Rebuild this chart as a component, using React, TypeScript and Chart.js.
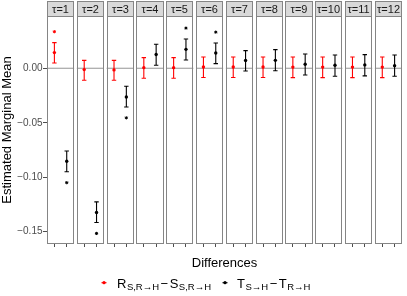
import React, { useEffect, useRef } from 'react';
import { Chart, registerables } from 'chart.js';

Chart.register(...registerables);

const panels = ['τ=1', 'τ=2', 'τ=3', 'τ=4', 'τ=5', 'τ=6', 'τ=7', 'τ=8', 'τ=9', 'τ=10', 'τ=11', 'τ=12'];

const redMean = [0.0144, -0.0012, -0.0015, 0.0006, 0.0006, 0.0012, 0.0012, 0.0012, 0.0011, 0.0011, 0.0011, 0.0011];
const redLow = [0.0049, -0.011, -0.011, -0.0092, -0.0092, -0.0085, -0.0085, -0.0085, -0.0086, -0.0086, -0.0086, -0.0086];
const redHigh = [0.0236, 0.0073, 0.0073, 0.0098, 0.0098, 0.0104, 0.0104, 0.0104, 0.0103, 0.0103, 0.0103, 0.0103];
const redSig = [true, false, false, false, false, false, false, false, false, false, false, false];

const blackMean = [-0.0853, -0.1324, -0.0263, 0.0126, 0.0174, 0.014, 0.0071, 0.0073, 0.0037, 0.0028, 0.0031, 0.0024];
const blackLow = [-0.095, -0.1416, -0.0355, 0.0028, 0.0076, 0.0043, -0.0025, -0.0022, -0.0061, -0.0073, -0.007, -0.0073];
const blackHigh = [-0.0759, -0.1226, -0.0165, 0.022, 0.0269, 0.0232, 0.0162, 0.0171, 0.0131, 0.0122, 0.0125, 0.0122];
const blackSig = [true, true, true, false, true, true, false, false, false, false, false, false];

const yTicks = [-0.15, -0.1, -0.05, 0];

const RED = '#ff0000';
const BLACK = '#000000';
const FONT = '"Liberation Sans", Arial, sans-serif';

// layout helpers (not data)
const GAP = 0.09; // gap between facet panels, in panel-spacing units
const PW = 1 - GAP; // panel width
const POS = [PW * (0.6 / 2.2), PW * (1.6 / 2.2)];
const STAR_OFF = 0.01;

const series = [
  { color: RED, mean: redMean, low: redLow, high: redHigh, sig: redSig, pos: POS[0] },
  { color: BLACK, mean: blackMean, low: blackLow, high: blackHigh, sig: blackSig, pos: POS[1] },
];

const facetPlugin = {
  id: 'facets',
  beforeDatasetsDraw(chart: any) {
    const { ctx, scales } = chart;
    const x = scales.x;
    const y = scales.y;
    ctx.save();
    const y0 = y.getPixelForValue(0);
    panels.forEach((_, i) => {
      const l = x.getPixelForValue(i);
      const r = x.getPixelForValue(i + PW);
      ctx.strokeStyle = '#a6a6a6';
      ctx.lineWidth = 1.2;
      ctx.beginPath();
      ctx.moveTo(l, y0);
      ctx.lineTo(r, y0);
      ctx.stroke();
    });
    series.forEach((s) => {
      ctx.strokeStyle = s.color;
      ctx.lineWidth = 1.1;
      panels.forEach((_, i) => {
        const px = x.getPixelForValue(i + s.pos);
        const yl = y.getPixelForValue(s.low[i]);
        const yh = y.getPixelForValue(s.high[i]);
        const cw = 2.2;
        ctx.beginPath();
        ctx.moveTo(px, yl);
        ctx.lineTo(px, yh);
        ctx.moveTo(px - cw, yl);
        ctx.lineTo(px + cw, yl);
        ctx.moveTo(px - cw, yh);
        ctx.lineTo(px + cw, yh);
        ctx.stroke();
      });
    });
    ctx.restore();
  },
  afterDatasetsDraw(chart: any) {
    const { ctx, chartArea, scales } = chart;
    const x = scales.x;
    ctx.save();
    panels.forEach((label, i) => {
      const l = Math.round(x.getPixelForValue(i)) + 0.5;
      const r = Math.round(x.getPixelForValue(i + PW)) - 0.5;
      const t = Math.round(chartArea.top) + 0.5;
      const b = Math.round(chartArea.bottom) - 0.5;
      ctx.strokeStyle = '#858585';
      ctx.lineWidth = 1;
      ctx.strokeRect(l, t, r - l, b - t);
      const st = 1.5;
      ctx.fillStyle = '#d9d9d9';
      ctx.fillRect(l, st, r - l, t - st);
      ctx.strokeRect(l, st, r - l, t - st);
      ctx.fillStyle = '#1a1a1a';
      ctx.font = `11px ${FONT}`;
      ctx.textAlign = 'center';
      ctx.textBaseline = 'middle';
      ctx.fillText(label, (l + r) / 2, (st + t) / 2 + 0.5);
    });
    ctx.restore();
  },
  afterDraw(chart: any) {
    const { ctx } = chart;
    ctx.save();
    const yc = 282.7;
    const drawItem = (mx: number, color: string, parts: [string, string][], tx: number) => {
      ctx.strokeStyle = color;
      ctx.lineWidth = 1.1;
      ctx.beginPath();
      ctx.moveTo(mx - 2.5, yc);
      ctx.lineTo(mx + 2.5, yc);
      ctx.stroke();
      ctx.fillStyle = color;
      ctx.beginPath();
      ctx.arc(mx, yc, 1.6, 0, Math.PI * 2);
      ctx.fill();
      ctx.fillStyle = '#000';
      ctx.textAlign = 'left';
      ctx.textBaseline = 'alphabetic';
      let cx = tx;
      parts.forEach(([main, sub], k) => {
        ctx.font = `13px ${FONT}`;
        ctx.fillText(main, cx, yc + 4.8);
        cx += ctx.measureText(main).width + 0.5;
        ctx.font = `9.5px ${FONT}`;
        ctx.fillText(sub, cx, yc + 7.3);
        cx += ctx.measureText(sub).width;
        if (k === 0) {
          ctx.font = `13px ${FONT}`;
          cx += 1.5;
          ctx.fillText('\u2212', cx, yc + 4.8);
          cx += ctx.measureText('\u2212').width + 1.5;
        }
      });
    };
    drawItem(104, RED, [['R', 'S,R\u2192H'], ['S', 'S,R\u2192H']], 117);
    drawItem(225, BLACK, [['T', 'S\u2192H'], ['T', 'R\u2192H']], 237);
    ctx.restore();
  },
};

export default function App() {
  const ref = useRef<HTMLCanvasElement>(null);

  useEffect(() => {
    if (!ref.current) return;
    const datasets: any[] = [];
    series.forEach((s) => {
      datasets.push({
        type: 'scatter',
        data: panels.map((_, i) => ({ x: i + s.pos, y: s.mean[i] })),
        backgroundColor: s.color,
        borderColor: s.color,
        pointRadius: 1.7,
        borderWidth: 0,
        clip: false,
      });
      const stars: any[] = [];
      panels.forEach((_, i) => {
        if (s.sig[i]) {
          const yv = s.mean[i] >= 0 ? s.high[i] + STAR_OFF : s.low[i] - STAR_OFF;
          stars.push({ x: i + s.pos, y: yv });
        }
      });
      datasets.push({
        type: 'scatter',
        data: stars,
        backgroundColor: s.color,
        borderColor: s.color,
        pointStyle: 'star',
        pointRadius: 1.6,
        borderWidth: 1,
        clip: false,
      });
    });

    const tickPositions: number[] = [];
    panels.forEach((_, i) => POS.forEach((p) => tickPositions.push(i + p)));

    const chart = new Chart(ref.current, {
      type: 'scatter',
      data: { datasets },
      options: {
        animation: false,
        responsive: true,
        maintainAspectRatio: false,
        events: [],
        layout: { padding: { left: 0, right: 3, top: 16, bottom: 25.2 } },
        plugins: { legend: { display: false }, tooltip: { enabled: false } },
        scales: {
          x: {
            type: 'linear',
            min: 0,
            max: panels.length - GAP,
            afterBuildTicks: (sc: any) => {
              sc.ticks = tickPositions.map((v) => ({ value: v }));
            },
            afterFit: (sc: any) => {
              sc.height = 26.8;
            },
            ticks: { display: false },
            grid: { drawOnChartArea: false, drawTicks: true, tickLength: 3, color: '#4d4d4d', lineWidth: 1 },
            border: { display: false },
            title: {
              display: true,
              text: 'Differences',
              color: '#000',
              font: { family: FONT, size: 13 },
              padding: 0,
            },
          },
          y: {
            type: 'linear',
            min: -0.1613,
            max: 0.048,
            afterBuildTicks: (sc: any) => {
              sc.ticks = yTicks.map((v) => ({ value: v }));
            },
            afterFit: (sc: any) => {
              sc.width = 47;
            },
            ticks: {
              color: '#4d4d4d',
              font: { family: FONT, size: 10 },
              padding: 0.5,
              callback: (v: any) => {
                const n = Number(v);
                const s = Math.abs(n).toFixed(2);
                return n < -1e-9 ? '\u2212' + s : s;
              },
            },
            grid: { drawOnChartArea: false, drawTicks: true, tickLength: 4, color: '#4d4d4d', lineWidth: 1 },
            border: { display: false },
            title: {
              display: true,
              text: 'Estimated Marginal Mean',
              color: '#000',
              font: { family: FONT, size: 13 },
              padding: 0,
            },
          },
        },
      },
      plugins: [facetPlugin],
    });
    return () => chart.destroy();
  }, []);

  return (
    <div style={{ position: 'fixed', left: 0, top: 0, width: 407, height: 296, background: '#fff' }}>
      <canvas ref={ref} />
    </div>
  );
}
